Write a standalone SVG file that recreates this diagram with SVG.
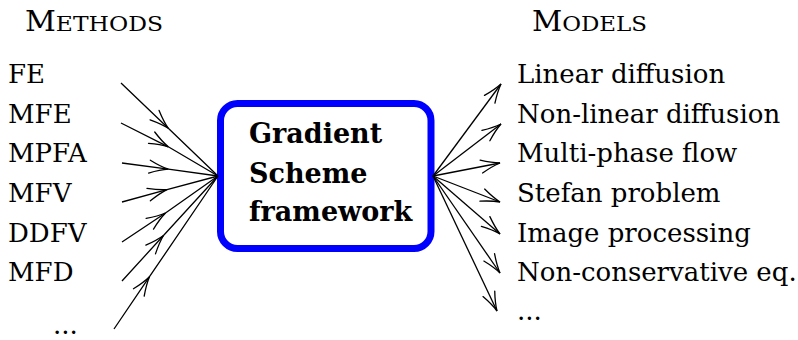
<svg xmlns="http://www.w3.org/2000/svg" width="798" height="340" viewBox="0 0 798 340">
<style>
.t{font-family:'DejaVu Serif','Liberation Serif',serif;font-size:26px;fill:#000}
.b{font-family:'DejaVu Serif','Liberation Serif',serif;font-size:27px;font-weight:bold;fill:#000}
.c{fill:none;stroke:#000;stroke-width:1.3}
.mid{marker-mid:url(#to)}
.end{marker-end:url(#to)}
</style>
<defs>
<marker id="to" markerUnits="userSpaceOnUse" orient="auto" markerWidth="24" markerHeight="18" viewBox="-21 -9 24 18" refX="0" refY="0" overflow="visible">
<path d="M -19,-6.5 Q -8,-1.6 0,0 Q -8,1.6 -19,6.5" fill="none" stroke="#000" stroke-width="1.3" stroke-linecap="round"/>
</marker>
</defs>
<rect width="798" height="340" fill="#fff"/>
<g id="headings">
<text class="t" x="25" y="31" textLength="138" lengthAdjust="spacingAndGlyphs"><tspan font-size="27">M</tspan><tspan font-size="21">ETHODS</tspan></text>
<text class="t" x="532" y="31" textLength="115" lengthAdjust="spacingAndGlyphs"><tspan font-size="27">M</tspan><tspan font-size="21">ODELS</tspan></text>
</g>
<g id="methods">
<g id="m-fe"><text class="t" x="8" y="83">FE</text></g>
<g id="m-mfe"><text class="t" x="8" y="123">MFE</text></g>
<g id="m-mpfa"><text class="t" x="8" y="162">MPFA</text></g>
<g id="m-mfv"><text class="t" x="8" y="202">MFV</text></g>
<g id="m-ddfv"><text class="t" x="8" y="242">DDFV</text></g>
<g id="m-mfd"><text class="t" x="8" y="281">MFD</text></g>
<g id="m-more"><text class="t" x="53" y="334">...</text></g>
</g>
<g id="framework">
<rect x="220.5" y="103.5" width="210.5" height="145" rx="17" ry="17" fill="#fff" stroke="#0000ff" stroke-width="7"/>
<text class="b" x="249" y="143">Gradient</text>
<text class="b" x="249" y="183">Scheme</text>
<text class="b" x="249" y="221">framework</text>
</g>
<g id="models">
<g id="r-lin"><text class="t" x="517" y="83">Linear diffusion</text></g>
<g id="r-nonlin"><text class="t" x="517" y="123">Non-linear diffusion</text></g>
<g id="r-multi"><text class="t" x="517" y="162">Multi-phase flow</text></g>
<g id="r-stefan"><text class="t" x="517" y="202">Stefan problem</text></g>
<g id="r-image"><text class="t" x="517" y="242">Image processing</text></g>
<g id="r-noncons"><text class="t" x="517" y="281">Non-conservative eq.</text></g>
<g id="r-more"><text class="t" x="517" y="320">...</text></g>
</g>
<g id="connectors">
<path class="c mid" d="M121,83 L168.3,128.3 L218,176"/>
<path class="c mid" d="M121,123 L168.3,146.8 L218,176"/>
<path class="c mid" d="M122,163 L168.3,169.2 L218,176"/>
<path class="c mid" d="M122,202 L167,189.6 L218,176"/>
<path class="c mid" d="M122,242 L165.5,213 L218,176"/>
<path class="c mid" d="M122,281 L163.5,235.5 L218,176"/>
<path class="c mid" d="M114,329 L149.5,276.7 L218,176"/>
<path class="c end" d="M433,176 L501,84"/>
<path class="c end" d="M433,176 L501,124"/>
<path class="c end" d="M433,176 L500,163"/>
<path class="c end" d="M433,176 L500,202"/>
<path class="c end" d="M433,176 L500,234"/>
<path class="c end" d="M433,176 L500,273"/>
<path class="c end" d="M433,176 L497,311"/>
</g>
</svg>
